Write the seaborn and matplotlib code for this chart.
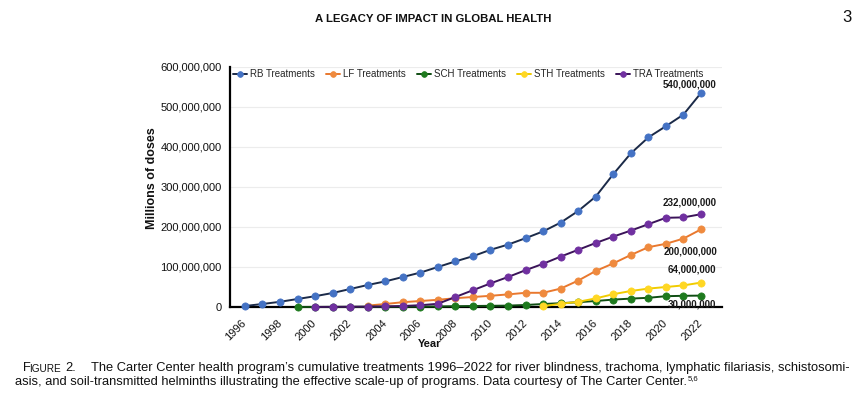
import numpy as np
import pandas as pd
import matplotlib
matplotlib.use("Agg")
import matplotlib.pyplot as plt
import seaborn as sns
from matplotlib.ticker import FuncFormatter

# ---------------- data ----------------
rb_years = list(range(1996, 2023))
rb_vals = [2.5, 7.5, 13, 20, 27, 35, 45, 55, 64, 75, 86, 100, 114, 127, 143, 156,
           172, 189, 211, 240, 276, 332, 384, 424, 452, 481, 535]

lf_years = list(range(2003, 2023))
lf_vals = [3.5, 7.5, 12, 15, 18, 22, 25, 28, 31.5, 35.5, 35.5, 46, 66, 90, 109,
           130, 149.5, 158, 171, 194]

sch_years = list(range(1999, 2023))
sch_vals = [0, 0.2, 0.3, 0.4, 0.5, 0.6, 0.8, 1, 1.5, 2, 2.5, 3, 3.5, 5, 7.5, 9.5,
            12, 15, 18.5, 21, 23, 27, 28, 28.5]

sth_years = list(range(2013, 2023))
sth_vals = [2, 8, 13, 21.5, 32, 40, 46, 50, 54, 61]

tra_years = list(range(2000, 2023))
tra_vals = [0, 0.3, 0.6, 1, 1.5, 2.5, 4.5, 8, 25, 42, 59, 75, 92, 108, 126, 143,
            160, 176, 191, 207, 223, 224, 232]

series_names = ["RB Treatments", "LF Treatments", "SCH Treatments",
                "STH Treatments", "TRA Treatments"]
end_labels = ["540,000,000", "200,000,000", "30,000,000", "64,000,000", "232,000,000"]
x_ticks = list(range(1996, 2023, 2))
y_ticks = [0, 100e6, 200e6, 300e6, 400e6, 500e6, 600e6]

# ---------------- style ----------------
sns.set_theme(style="white")
plt.rcParams["font.family"] = ["Liberation Sans", "DejaVu Sans"]

line_colors = ["#1b2a48", "#e9782e", "#0f4d12", "#f0cc00", "#3a1358"]
marker_colors = ["#4472c4", "#ef8a3e", "#1e7a1e", "#ffd724", "#7030a0"]
# label offsets (points) relative to the last point of each series
label_offsets = [(10.8, 6.0), (11.5, -15.8), (10.8, -6.5), (10.8, 9.4), (11.5, 8.2)]

W, H = 855, 400
fig = plt.figure(figsize=(W / 100, H / 100), dpi=100)
ax = fig.add_axes([230 / W, 1 - 307 / H, 492 / W, 240 / H])

all_series = [(rb_years, rb_vals), (lf_years, lf_vals), (sch_years, sch_vals),
              (sth_years, sth_vals), (tra_years, tra_vals)]

handles = []
for i, ((yrs, vals), name) in enumerate(zip(all_series, series_names)):
    df = pd.DataFrame({"Year": yrs, "Doses": np.array(vals) * 1e6})
    n_before = len(ax.lines)
    sns.lineplot(data=df, x="Year", y="Doses", ax=ax, color=line_colors[i],
                 linewidth=1.4, marker="o", markersize=5.2,
                 markerfacecolor=marker_colors[i], markeredgecolor=marker_colors[i],
                 label=name, clip_on=False, zorder=3 + i, legend=False)
    ln = ax.lines[n_before]
    ln.set_markerfacecolor(marker_colors[i])
    ln.set_markeredgecolor(marker_colors[i])
    ln.set_markeredgewidth(0.5)
    ln.set_label(name)
    handles.append(ln)
    dx, dy = label_offsets[i]
    ax.annotate(end_labels[i], xy=(yrs[-1], vals[-1] * 1e6), xytext=(dx, dy),
                textcoords="offset points", ha="right", va="center",
                fontsize=7, fontweight="bold", color="#1a1a1a", zorder=10)

# axes
ax.set_xlim(1995.15, 2023.2)
ax.set_ylim(0, 600e6)
ax.set_yticks(y_ticks)
ax.yaxis.set_major_formatter(FuncFormatter(lambda v, p: f"{v:,.0f}"))
ax.set_xticks(x_ticks)
ax.set_xticklabels([str(t) for t in x_ticks], rotation=45, ha="right",
                   va="center", rotation_mode="anchor")
ax.tick_params(axis="x", length=0, pad=10.4, labelsize=8, colors="#111111")
ax.tick_params(axis="y", length=0, pad=6, labelsize=8, colors="#111111")
ax.yaxis.grid(True, color="#ececec", linewidth=0.8)
ax.xaxis.grid(False)
for s in ["top", "right"]:
    ax.spines[s].set_visible(False)
for s in ["left", "bottom"]:
    ax.spines[s].set_color("black")
    ax.spines[s].set_linewidth(1.6)
    ax.spines[s].set_zorder(2)

ax.set_ylabel("Millions of doses", fontsize=9, fontweight="bold", color="#111111")
ax.yaxis.set_label_coords(-0.147, 0.5375)
ax.set_xlabel("Year", fontsize=8, fontweight="bold", color="#111111")
ax.xaxis.set_label_coords(0.4065, -0.133)

ax.legend(handles=handles, labels=series_names, ncol=5, loc="center left",
          bbox_to_anchor=((233 - 230) / 492, (307 - 74) / 240), frameon=False,
          fontsize=7, handlelength=1.4, handletextpad=0.3, columnspacing=1.2,
          borderpad=0, borderaxespad=0, markerscale=0.8)

# header
hdr = fig.text(433 / W, 1 - 19 / H, "A LEGACY OF IMPACT IN GLOBAL HEALTH",
               ha="center", va="center", fontsize=8, fontweight="bold", color="#111111")
fig.text(847 / W, 1 - 17 / H, "3", ha="center", va="center", fontsize=12, color="#111111")

# caption
cap_family = ["Liberation Sans Narrow", "Liberation Sans", "DejaVu Sans"]
fig.canvas.draw()
r = fig.canvas.get_renderer()


def fit(t, target):
    bb = t.get_window_extent(renderer=r)
    t.set_fontsize(t.get_fontsize() * target / bb.width)


fit(hdr, 237)

line1 = fig.text(90.7 / W, 1 - 368.3 / H,
                 "The Carter Center health program\u2019s cumulative treatments 1996\u20132022 "
                 "for river blindness, trachoma, lymphatic filariasis, schistosomi-",
                 ha="left", va="center", fontsize=9, family=cap_family, color="#111111")
fit(line1, 759)
fs = line1.get_fontsize()
line2 = fig.text(15 / W, 1 - 382.5 / H,
                 "asis, and soil-transmitted helminths illustrating the effective scale-up of "
                 "programs. Data courtesy of The Carter Center.",
                 ha="left", va="center", fontsize=fs, family=cap_family, color="#111111")
fig.text(22.7 / W, 1 - 368.3 / H, "F", ha="left", va="center", fontsize=fs,
         family=cap_family, color="#111111")
fig.text(29 / W, 1 - 368.3 / H - 3.3 / H, "IGURE", ha="left", va="baseline",
         fontsize=fs * 0.78, family=cap_family, color="#111111")
fig.text(65 / W, 1 - 368.3 / H, "2.", ha="left", va="center", fontsize=fs,
         family=cap_family, color="#111111")
fig.canvas.draw()
bb2 = line2.get_window_extent(renderer=r)
fig.text((bb2.x1 + 1) / W, 1 - 378.5 / H, "5,6", ha="left", va="center",
         fontsize=fs * 0.6, family=cap_family, color="#111111")

fig.savefig("out.png", dpi=100, facecolor="white")
